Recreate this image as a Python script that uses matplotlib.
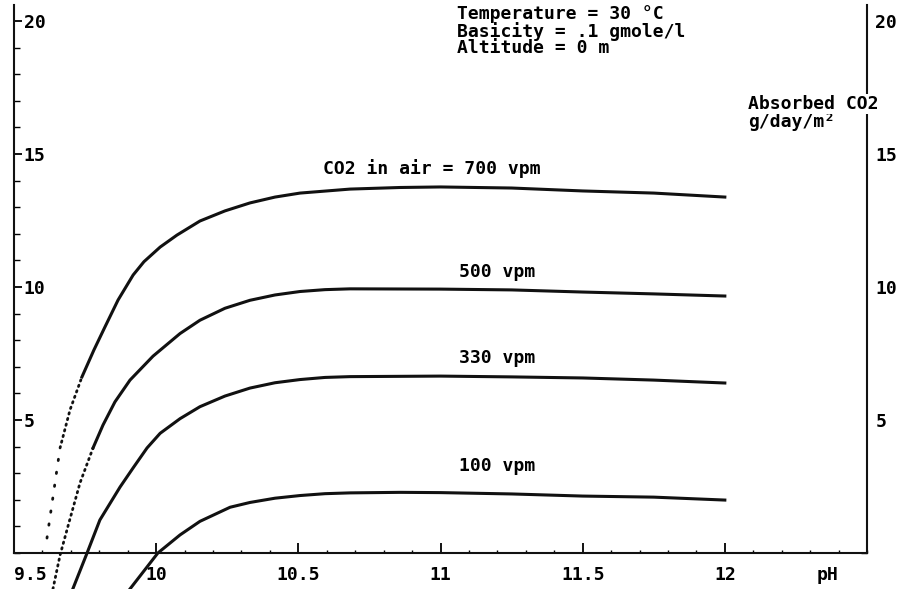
import numpy as np
import matplotlib.pyplot as plt
from matplotlib.ticker import MultipleLocator

# curves: pH vs absorbed CO2 (g/day/m2)
ph_700 = [9.616, 9.662, 9.697, 9.739, 9.781, 9.820, 9.866, 9.919, 9.957, 10.014, 10.073,
          10.154, 10.242, 10.330, 10.418, 10.506, 10.682, 10.858, 11.0, 11.25, 11.5, 11.75, 12.0]
co2_700 = [0.56, 3.95, 5.38, 6.62, 7.63, 8.50, 9.51, 10.45, 10.95, 11.50, 11.95,
           12.48, 12.86, 13.16, 13.38, 13.53, 13.68, 13.74, 13.76, 13.72, 13.61, 13.53, 13.38]

ph_500 = [9.637, 9.662, 9.693, 9.732, 9.778, 9.813, 9.855, 9.908, 9.989, 10.084, 10.154,
          10.242, 10.330, 10.418, 10.506, 10.594, 10.682, 11.0, 11.25, 11.5, 11.75, 12.0]
co2_500 = [-1.35, -0.08, 1.13, 2.63, 3.95, 4.81, 5.68, 6.50, 7.40, 8.25, 8.75,
           9.20, 9.50, 9.70, 9.83, 9.90, 9.93, 9.92, 9.89, 9.81, 9.74, 9.66]

ph_330 = [9.708, 9.757, 9.802, 9.873, 9.919, 9.968, 10.014, 10.084, 10.154, 10.242, 10.330,
          10.418, 10.506, 10.594, 10.682, 11.0, 11.25, 11.5, 11.75, 12.0]
co2_330 = [-1.32, 0.0, 1.24, 2.48, 3.20, 3.95, 4.50, 5.05, 5.50, 5.90, 6.20,
           6.40, 6.52, 6.60, 6.63, 6.65, 6.62, 6.58, 6.50, 6.39]

ph_100 = [9.908, 10.006, 10.084, 10.154, 10.260, 10.330, 10.418, 10.506, 10.594, 10.682,
          10.858, 11.0, 11.25, 11.5, 11.75, 12.0]
co2_100 = [-1.35, 0.0, 0.68, 1.19, 1.72, 1.90, 2.06, 2.16, 2.23, 2.26,
           2.28, 2.27, 2.22, 2.14, 2.10, 1.99]

# steep low ends are plotted as dots: (from pH, to pH) pieces
dotted_parts = {'700': [(9.616, 9.662), (9.662, 9.739)], '500': [(9.637, 9.778)]}

curve_labels = ['CO2 in air = 700 vpm', '500 vpm', '330 vpm', '100 vpm']
x_ticks = [9.5, 10, 10.5, 11, 11.5, 12]
x_ticklabels = ['9.5', '10', '10.5', '11', '11.5', '12']
y_ticks = [5, 10, 15, 20]
conditions = ['Temperature = 30 °C', 'Basicity = .1 gmole/l', 'Altitude = 0 m']

font = dict(family='DejaVu Sans Mono', weight='bold', size=13)
ink = '#111111'

fig = plt.figure(figsize=(9.08, 5.89), dpi=100)
ax = fig.add_axes([14 / 908, 36 / 589, 853 / 908, 548 / 589])
ax.set_xlim(9.5, 12.5)
ax.set_ylim(0, 20.6)

curves = {'700': (ph_700, co2_700), '500': (ph_500, co2_500),
          '330': (ph_330, co2_330), '100': (ph_100, co2_100)}
dot_styles = [(0, (0.5, 1.6)), (0, (0.5, 4.2))]
for name, (ph, co2) in curves.items():
    ph = np.array(ph)
    co2 = np.array(co2)
    parts = dotted_parts.get(name, [])
    start = parts[-1][1] if parts else ph[0]
    solid = ph >= start
    ax.plot(ph[solid], co2[solid], color=ink, lw=2.2, clip_on=False)
    for j, (a, b) in enumerate(parts):
        m = (ph >= a) & (ph <= b)
        style = dot_styles[1] if (len(parts) > 1 and j == 0) else dot_styles[0]
        ax.plot(ph[m], co2[m], color=ink, lw=2.0, ls=style,
                dash_capstyle='round', clip_on=False)

# curve labels
ax.text(10.97, 14.47, curve_labels[0], ha='center', va='center', **font)
ax.text(11.2, 10.56, curve_labels[1], ha='center', va='center', **font)
ax.text(11.2, 7.33, curve_labels[2], ha='center', va='center', **font)
ax.text(11.2, 3.27, curve_labels[3], ha='center', va='center', **font)

for i, s in enumerate(conditions):
    ax.text(11.058, 20.26 - 0.64 * i, s, ha='left', va='center', **font)

ax.text(12.082, 16.88, 'Absorbed CO2', ha='left', va='center', zorder=5,
        bbox=dict(facecolor='white', edgecolor='none', pad=0.5), **font)
ax.text(12.082, 16.2, 'g/day/m²', ha='left', va='center', **font)
ax.text(0.954, -0.040, 'pH', transform=ax.transAxes, ha='center', va='center', **font)

# spines
ax.spines['top'].set_visible(False)
for s in ['left', 'right', 'bottom']:
    ax.spines[s].set_linewidth(1.5)
    ax.spines[s].set_color(ink)

# x axis
ax.set_xticks(x_ticks)
ax.set_xticklabels(x_ticklabels, **font)
ax.xaxis.set_minor_locator(MultipleLocator(0.1))
ax.tick_params(axis='x', which='major', direction='in', length=7, width=1.3, pad=9)
ax.tick_params(axis='x', which='minor', direction='in', length=2.5, width=1)
ax.get_xticklabels()[0].set_ha('left')

# left y axis, labels inside
ax.set_yticks(y_ticks)
ax.set_yticklabels([str(v) for v in y_ticks], **font)
ax.yaxis.set_minor_locator(MultipleLocator(1))
ax.tick_params(axis='y', which='major', direction='in', length=6, width=1.3, pad=-7)
ax.tick_params(axis='y', which='minor', direction='in', length=4, width=1)
for t in ax.get_yticklabels():
    t.set_ha('left')

# right y axis, labels outside
ax2 = ax.twinx()
ax2.set_ylim(ax.get_ylim())
ax2.set_yticks(y_ticks)
ax2.set_yticklabels([str(v) for v in y_ticks], **font)
ax2.yaxis.set_minor_locator(MultipleLocator(1))
ax2.tick_params(axis='y', which='major', direction='in', length=6, width=1.3, pad=6)
ax2.tick_params(axis='y', which='minor', direction='in', length=4, width=1)
for s in ax2.spines.values():
    s.set_visible(False)
ax2.set_zorder(-1)

fig.savefig('out.png', dpi=100)
